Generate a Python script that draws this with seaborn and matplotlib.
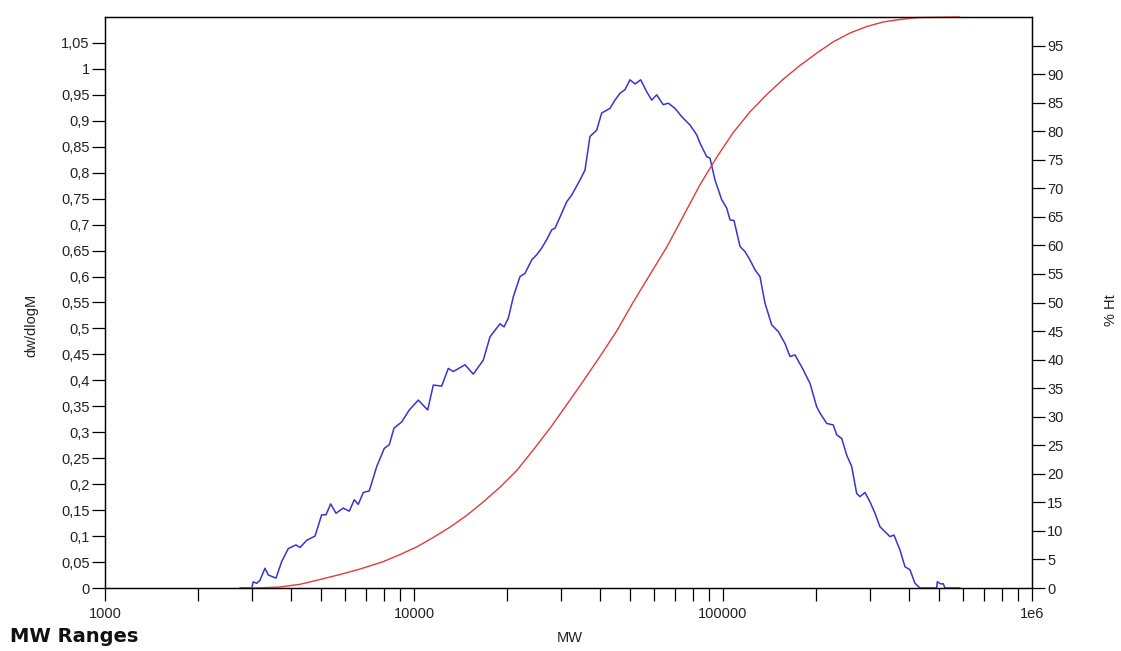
import numpy as np
import pandas as pd
import matplotlib
matplotlib.use('Agg')
import matplotlib.pyplot as plt
import seaborn as sns
from matplotlib.ticker import FixedLocator, FuncFormatter, NullFormatter

sns.set_theme(style="ticks")
plt.rcParams['font.family'] = ['Liberation Sans', 'DejaVu Sans']

fig_size = (11.21, 6.51)
blue = '#3535cf'
red = '#e23a3a'

# MWD curve (dw/dlogM)
blue_mw = [2735, 2984, 3019, 3097, 3173, 3294, 3377, 3576, 3731, 3919,
           4150, 4276, 4497, 4782, 5026, 5190, 5375, 5592, 5903, 6173,
           6408, 6601, 6852, 7165, 7574, 8015, 8319, 8615, 9124, 9656,
           10325, 11074, 11548, 12290, 12912, 13403, 14622, 15557, 16758, 17620,
           18984, 19560, 20196, 20962, 22030, 22866, 24039, 24953, 25902, 26879,
           27900, 28596, 30060, 31203, 32388, 34447, 35755, 37113, 39016, 40494,
           43078, 44719, 46415, 48169, 50003, 51903, 54160, 56634, 58780, 61007,
           64084, 66527, 69937, 73512, 78200, 82202, 84249, 88567, 90765, 94212,
           99035, 102802, 105366, 108545, 113505, 117810, 122284, 126927, 131718, 136717,
           143720, 151003, 158713, 164734, 171010, 181943, 191261, 201025, 206036, 216590,
           227514, 233357, 242234, 251362, 260900, 270799, 277550, 288040, 298971, 310316,
           322091, 347025, 357556, 373898, 388105, 402848, 418142, 434020, 491547, 493720,
           506383, 516290, 522883, 584756]
blue_dw = [0, 0, 0.012, 0.009, 0.015, 0.038, 0.025, 0.019, 0.051, 0.076,
           0.083, 0.078, 0.092, 0.100, 0.141, 0.141, 0.162, 0.144, 0.154, 0.148,
           0.170, 0.161, 0.184, 0.187, 0.234, 0.269, 0.276, 0.308, 0.320, 0.343,
           0.362, 0.343, 0.391, 0.389, 0.423, 0.417, 0.430, 0.412, 0.439, 0.484,
           0.509, 0.503, 0.520, 0.561, 0.600, 0.606, 0.632, 0.642, 0.655, 0.671,
           0.690, 0.693, 0.722, 0.744, 0.757, 0.786, 0.805, 0.870, 0.882, 0.915,
           0.924, 0.940, 0.953, 0.960, 0.979, 0.971, 0.979, 0.956, 0.940, 0.950,
           0.931, 0.934, 0.924, 0.908, 0.892, 0.873, 0.857, 0.831, 0.828, 0.786,
           0.748, 0.732, 0.709, 0.708, 0.658, 0.648, 0.632, 0.613, 0.600, 0.549,
           0.507, 0.494, 0.471, 0.446, 0.449, 0.420, 0.394, 0.349, 0.337, 0.317,
           0.314, 0.295, 0.288, 0.256, 0.234, 0.182, 0.176, 0.184, 0.166, 0.144,
           0.118, 0.099, 0.102, 0.073, 0.041, 0.035, 0.009, 0, 0, 0.012,
           0.008, 0.008, 0, 0]

# cumulative curve (% Ht)
red_mw = [2735, 3173, 3684, 4276, 4964, 5762, 6687, 7937, 9010, 10226,
          11524, 13080, 14845, 16720, 18984, 21544, 24280, 27547, 31270, 35240,
          39990, 45390, 51140, 58040, 65890, 74230, 84250, 95630, 107750, 122280,
          138800, 156400, 177500, 201500, 227000, 257600, 292400, 329500, 373900, 424400,
          584800]
red_pct = [0, 0.03, 0.17, 0.65, 1.49, 2.36, 3.32, 4.60, 5.86, 7.22,
           8.83, 10.66, 12.76, 15.03, 17.66, 20.63, 24.13, 27.97, 32.17, 36.19,
           40.56, 45.10, 50.00, 54.90, 59.79, 65.03, 70.63, 75.52, 79.72, 83.39,
           86.45, 89.07, 91.52, 93.71, 95.63, 97.20, 98.34, 99.13, 99.56, 99.9,
           100]

x_ticks = [1000, 10000, 100000, 1000000]
x_tick_labels = ['1000', '10000', '100000', '1e6']
left_ticks = [i * 0.05 for i in range(22)]
right_ticks = list(range(0, 100, 5))

mwd = pd.DataFrame({'MW': blue_mw, 'dw/dlogM': blue_dw})
cum = pd.DataFrame({'MW': red_mw, '% Ht': red_pct})

fig = plt.figure(figsize=fig_size, dpi=100)
ax = fig.add_axes([105 / 1121, 1 - 588 / 651, 927 / 1121, 571 / 651])
ax2 = ax.twinx()

sns.lineplot(data=mwd, x='MW', y='dw/dlogM', ax=ax, color=blue,
             linewidth=1.1, estimator=None)
sns.lineplot(data=cum, x='MW', y='% Ht', ax=ax2, color=red,
             linewidth=1.0, estimator=None, clip_on=False)

ax.set_xscale('log')
ax.set_xlim(1000, 1e6)
ax.set_ylim(0, 1.1)
ax2.set_ylim(0, 100)

ax.xaxis.set_major_locator(FixedLocator(x_ticks))
ax.set_xticklabels(x_tick_labels)
ax.xaxis.set_minor_locator(matplotlib.ticker.LogLocator(base=10, subs=np.arange(2, 10)))
ax.xaxis.set_minor_formatter(NullFormatter())

ax.yaxis.set_major_locator(FixedLocator(left_ticks))
ax.yaxis.set_major_formatter(FuncFormatter(lambda v, p: ('%g' % round(v, 2)).replace('.', ',')))
ax2.yaxis.set_major_locator(FixedLocator(right_ticks))

for a in (ax, ax2):
    a.tick_params(axis='both', which='both', direction='out', length=9.5,
                  width=0.9, color='black', labelsize=10.5, labelcolor='#222222')
    for s in a.spines.values():
        s.set_visible(True)
        s.set_color('black')
        s.set_linewidth(0.9)
ax.tick_params(axis='y', pad=1.5)
ax.tick_params(axis='x', which='both', pad=4)
ax2.tick_params(axis='y', pad=1.5)
ax.tick_params(top=False, right=False)

ax.set_xlabel('MW', fontsize=10.5, color='#222222')
ax.set_ylabel('dw/dlogM', fontsize=10.5, color='#222222')
ax2.set_ylabel('% Ht', fontsize=10.5, color='#222222')
ax.xaxis.set_label_coords(0.5016, -0.075)
ax.yaxis.set_label_coords(-0.072, 0.46)
ax2.yaxis.set_label_coords(1.078, 0.487)

fig.text(10 / 1121, 1 - 637 / 651, 'MW Ranges', fontsize=14, fontweight='bold',
         family=['DejaVu Sans'], va='center', ha='left', color='#111111')

fig.savefig('out.png', dpi=100)
